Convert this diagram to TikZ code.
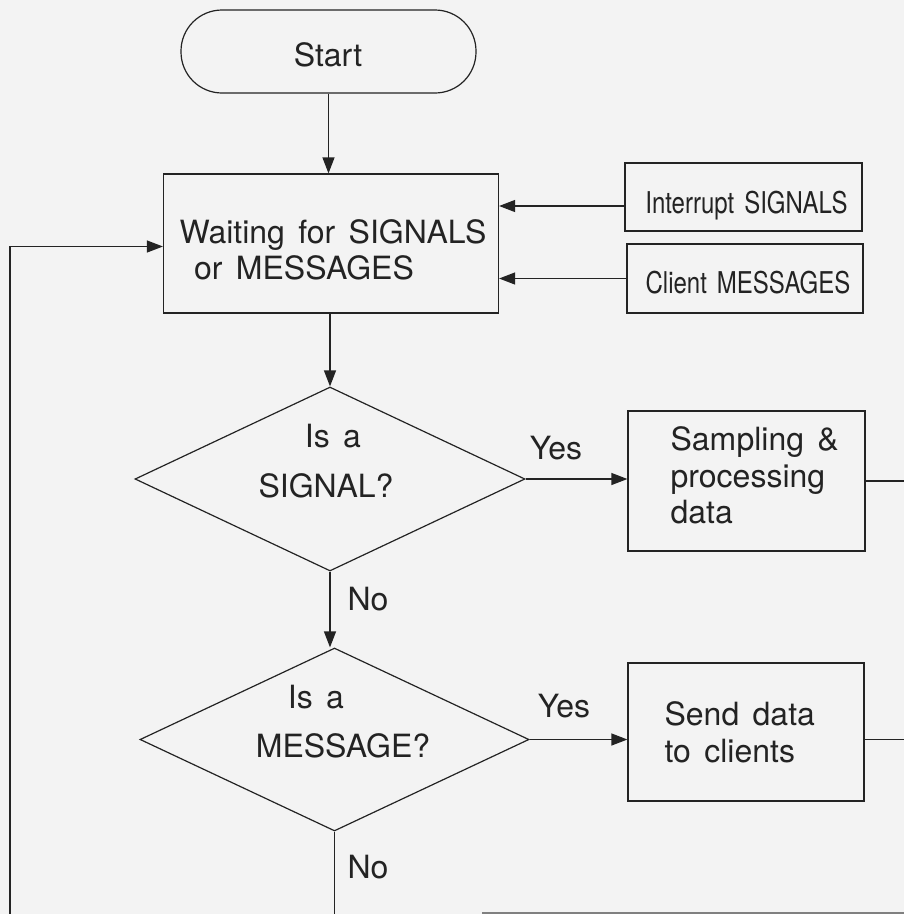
\documentclass[tikz,border=0pt]{standalone}
\usepackage{fontspec}
\setmainfont{TeX Gyre Heros}[WordSpace=1.5]
\newfontfamily\narrowfont{TeX Gyre Heros}[FakeStretch=0.8,WordSpace=1.5]
\usetikzlibrary{arrows.meta,shapes.geometric}
\definecolor{bgc}{RGB}{243,243,243}
\definecolor{ink}{RGB}{35,35,35}
\begin{document}
\begin{tikzpicture}[x=1pt,y=-1pt,
  every path/.style={line width=1.2pt},
  box/.style={draw=ink, rectangle, inner sep=0pt},
  dia/.style={draw=ink, diamond, inner sep=0pt, aspect=2.1},
  txt/.style={text=ink, inner sep=0pt, font=\fontsize{32}{36}\selectfont},
  ntxt/.style={text=ink, inner sep=0pt, font=\narrowfont\fontsize{30}{32}\selectfont},
  arr/.style={draw=ink, -{Triangle[length=16pt,width=12pt]}},
  ln/.style={draw=ink}]
\fill[bgc] (0,0) rectangle (904,914);
\useasboundingbox (0,0) rectangle (904,914);

% shapes
\node[box, rounded corners=41pt, minimum width=295pt, minimum height=83pt] (start) at (328.5,51.5) {};
\node[box, minimum width=335pt, minimum height=139pt] (wait) at (331,243.5) {};
\node[box, minimum width=237pt, minimum height=68pt] (intr) at (743.5,197) {};
\node[box, minimum width=236pt, minimum height=69pt] (client) at (745,278.5) {};
\node[dia, minimum width=390pt, minimum height=184pt] (d1) at (330,479) {};
\node[box, minimum width=237pt, minimum height=140pt] (samp) at (746.5,481) {};
\node[dia, minimum width=389pt, minimum height=183pt] (d2) at (334.5,739.5) {};
\node[box, minimum width=236pt, minimum height=138pt] (send) at (746,732) {};

% texts
\node[txt, anchor=base] (tstart) at (328,66) {Start};
\node[txt, anchor=base] (tw1) at (333,243) {Waiting for SIGNALS};
\node[txt, anchor=base] (tw2) at (304,279) {or MESSAGES};
\node[ntxt, anchor=base] (ti) at (746.5,213) {Interrupt SIGNALS};
\node[ntxt, anchor=base] (tc) at (748,293) {Client MESSAGES};
\node[txt, anchor=base] (td1a) at (333,447) {Is a};
\node[txt, anchor=base] (td1b) at (326,497) {SIGNAL?};
\node[txt, anchor=base] (ty1) at (556,459) {Yes};
\node[txt, anchor=base west] (ts1) at (670,450) {Sampling \&};
\node[txt, anchor=base west] (ts2) at (670,487) {processing};
\node[txt, anchor=base west] (ts3) at (670,523) {data};
\node[txt, anchor=base] (tn1) at (368,610) {No};
\node[txt, anchor=base] (td2a) at (316,708) {Is a};
\node[txt, anchor=base] (td2b) at (343,757) {MESSAGE?};
\node[txt, anchor=base] (ty2) at (564,717) {Yes};
\node[txt, anchor=base west] (tsd1) at (664,725) {Send data};
\node[txt, anchor=base west] (tsd2) at (664,762) {to clients};
\node[txt, anchor=base] (tn2) at (368,878) {No};

% helper coordinates
\coordinate (yi) at (0,206);
\coordinate (yl) at (0,246.5);
\coordinate (lb) at (10,914);
\coordinate (lt) at (10,246.5);
\coordinate (r1) at (904,481);
\coordinate (r2) at (904,739.5);
\coordinate (nb) at (340,914);
\coordinate (bl) at (482,913);
\coordinate (br) at (904,913);

% connectors
\draw[arr] (start.south) -- (start.south |- wait.north);
\draw[arr] (intr.west |- yi) -- (wait.east |- yi);
\draw[arr] (client.west) -- (wait.east |- client.west);
\draw[arr] (lb) -- (lt) -- (wait.west |- yl);
\draw[arr] (d1.north |- wait.south) -- (d1.north);
\draw[arr] (d1.east) -- (samp.west |- d1.east);
\draw[ln] (samp.east) -- (r1);
\draw[arr] (d1.south) -- (d1.south |- d2.north);
\draw[arr] (d2.east) -- (send.west |- d2.east);
\draw[ln] (send.east |- d2.east) -- (r2);
\draw[ln] (d2.south) -- (d2.south |- nb);
\draw[draw=gray, line width=1.5pt] (bl) -- (br);
\end{tikzpicture}
\end{document}
